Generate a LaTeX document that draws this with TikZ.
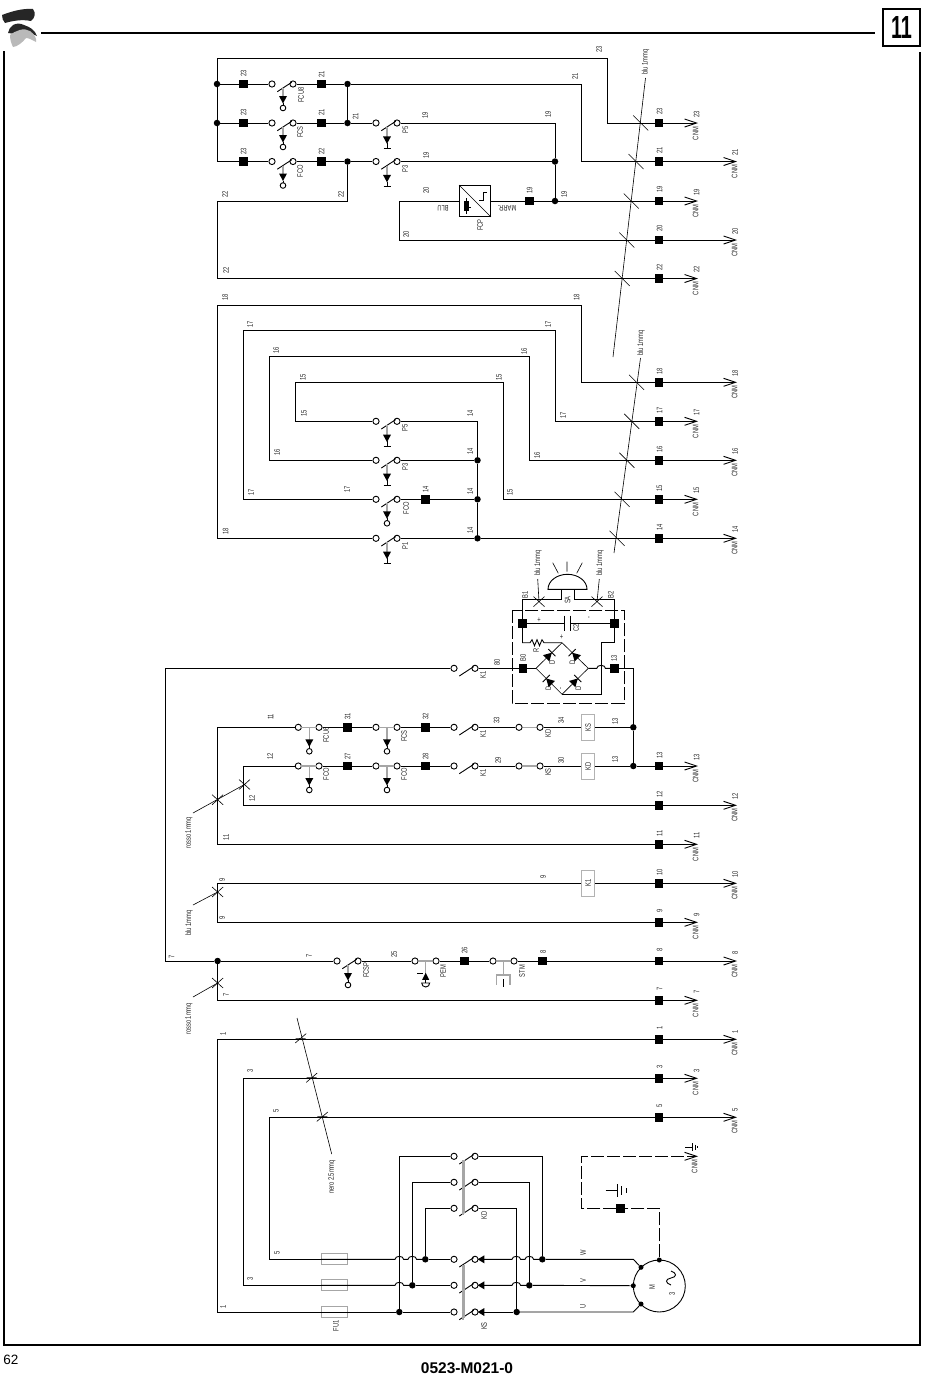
\documentclass[tikz,border=0pt]{standalone}
\usepackage{fontspec}
\setmainfont{Liberation Sans}
\newfontfamily\lblfont[FakeStretch=0.72]{Liberation Sans}
\newfontfamily\boxfont[FakeStretch=0.62]{Liberation Sans}
\usetikzlibrary{arrows.meta}

\begin{document}
\begin{tikzpicture}[
		x=1pt,y=-1pt,
		wire/.style={line width=.9},
		frameline/.style={line width=2},
		plugwire/.style={wire,-{Straight Barb[length=12,width=8]}},
		dashwire/.style={wire,dash pattern=on 13 off 3},
		thinline/.style={line width=.6},
		stemline/.style={line width=1.2,gray!70},
		term/.style={rectangle,fill=black,minimum size=8.5,inner sep=0},
		jdot/.style={circle,fill=black,minimum size=6.5,inner sep=0},
		cont/.style={circle,draw,wire,fill=white,minimum size=6.2,inner sep=0},
		lbl/.style={rotate=90,font={\lblfont\fontsize{8}{9}\selectfont},text=black!85,inner sep=0},
		relay/.style={lbl,draw=gray!60,line width=1,fill=white,minimum width=26,minimum height=13.4},
		fuse/.style={draw=gray!70,line width=1,minimum width=26,minimum height=11,inner sep=0},
		swblade/.pic={\draw[wire] (5.3,7.7) -- (19.7,-1.7);},
		swball/.pic={
			\draw[stemline] (11,4) -- (11,13);
			\fill (7,12) -- (15,12) -- (11,19.5) -- cycle;
			\draw[wire] (11,19) -- (11,21.5);
			\draw[wire,fill=white] (11,24) circle[radius=2.8];
		},
		swbar/.pic={
			\draw[stemline] (11,4) -- (11,14);
			\fill (7,13.4) -- (15,13.4) -- (11,20.8) -- cycle;
			\draw[wire] (11,20) -- (11,25) (7.5,25) -- (14.5,25);
		},
		swclosed/.pic={
			\draw[stemline] (2.8,0) -- (18.2,0) (11,0) -- (11,13);
			\fill (7,12) -- (15,12) -- (11,19.5) -- cycle;
			\draw[wire] (11,19) -- (11,21.5);
			\draw[wire,fill=white] (11,24) circle[radius=2.8];
		},
		tick/.pic={\draw[thinline] (-7.5,-7.5) -- (7.5,7.5);},
		cross/.pic={\draw[thinline] (-5.5,5) -- (5.5,-5) (-5.5,-5) -- (5.5,5);},
		slash/.pic={\draw[thinline] (-5.5,4.7) -- (5.5,-4.7) (-5,0) -- (5,0);},
		diode/.pic={
			\fill (-4,-4.5) -- (-4,4.5) -- (4,0) -- cycle;
			\draw[wire] (4,-5) -- (4,5);
		},
		intri/.pic={\fill (2.7,0) -- (9.3,-4) -- (9.3,4) -- cycle;}
		]
		\useasboundingbox (0,0) rectangle (950,1379);

		% frame and page marks
		\draw[frameline] (41,33) -- (875,33);
		\draw[frameline] (4,51) -- (4,1345) -- (920,1345) -- (920,52);
		\node[draw,frameline,minimum size=37,inner sep=0,font={\boxfont\bfseries\fontsize{32}{32}\selectfont}] (pagebox) at (901.5,27.5) {11};
		\fill[black!85] (2,15) .. controls (10,12) and (22,8) .. (33,9) .. controls (36,13) and (35,18) .. (31,21) .. controls (22,19) and (12,21) .. (5,23) .. controls (3,21) and (2,18) .. (2,15) -- cycle;
		\fill[black!85] (8,33) .. controls (9,26) and (16,21) .. (24,25) .. controls (30,27) and (35,30) .. (37,36) .. controls (30,33) and (22,28) .. (17,32) .. controls (14,34) and (11,34) .. (8,33) -- cycle;
		\fill[gray!55] (10,35) .. controls (15,31) and (24,27) .. (30,31) .. controls (34,34) and (37,38) .. (36,42) .. controls (32,40) and (29,38) .. (26,38) .. controls (23,42) and (17,47) .. (13,47) .. controls (11,43) and (10,39) .. (10,35) -- cycle;
		\node[font=\fontsize{13.5}{14}\selectfont,inner sep=0] (pagenum) at (11,1360) {62};
		\node[font=\bfseries\fontsize{15.5}{16}\selectfont,inner sep=0] (drawnum) at (467,1368) {0523-M021-0};

		% right hand terminals and plugs
		\path (659,123) node[term] (tr23) {} (659,161.5) node[term] (tr21) {} (659,201) node[term] (tr19) {}
		 (659,240) node[term] (tr20) {} (659,278.5) node[term] (tr22) {}
		 (659,382.3) node[term] (tr18) {} (659,421.3) node[term] (tr17) {} (659,460.3) node[term] (tr16) {}
		 (659,499.3) node[term] (tr15) {} (659,538.3) node[term] (tr14) {}
		 (659,766) node[term] (tr13) {} (659,805.3) node[term] (tr12) {} (659,844.3) node[term] (tr11) {}
		 (659,883.3) node[term] (tr10) {} (659,922.3) node[term] (tr9) {} (659,961) node[term] (tr8) {}
		 (659,1000.3) node[term] (tr7) {} (659,1039.3) node[term] (tr1) {} (659,1078.3) node[term] (tr3) {}
		 (659,1117.3) node[term] (tr5) {};
		\coordinate (pl23) at (698,123);
		\coordinate (pl21) at (737,161.5);
		\coordinate (pl19) at (698,201);
		\coordinate (pl20) at (737,240);
		\coordinate (pl22) at (698,278.5);
		\coordinate (pl18) at (737,382.3);
		\coordinate (pl17) at (698,421.3);
		\coordinate (pl16) at (737,460.3);
		\coordinate (pl15) at (698,499.3);
		\coordinate (pl14) at (737,538.3);
		\coordinate (pl13) at (698,766);
		\coordinate (pl12) at (737,805.3);
		\coordinate (pl11) at (698,844.3);
		\coordinate (pl10) at (737,883.3);
		\coordinate (pl9) at (698,922.3);
		\coordinate (pl8) at (737,961);
		\coordinate (pl7) at (698,1000.3);
		\coordinate (pl1) at (737,1039.3);
		\coordinate (pl3) at (698,1078.3);
		\coordinate (pl5) at (737,1117.3);
		\coordinate (plE) at (698,1156.3);
		\draw[plugwire] (tr23) -- (pl23);
		\draw[plugwire] (tr21) -- (pl21);
		\draw[plugwire] (tr19) -- (pl19);
		\draw[plugwire] (tr20) -- (pl20);
		\draw[plugwire] (tr22) -- (pl22);
		\draw[plugwire] (tr18) -- (pl18);
		\draw[plugwire] (tr17) -- (pl17);
		\draw[plugwire] (tr16) -- (pl16);
		\draw[plugwire] (tr15) -- (pl15);
		\draw[plugwire] (tr14) -- (pl14);
		\draw[plugwire] (tr13) -- (pl13);
		\draw[plugwire] (tr12) -- (pl12);
		\draw[plugwire] (tr11) -- (pl11);
		\draw[plugwire] (tr10) -- (pl10);
		\draw[plugwire] (tr9) -- (pl9);
		\draw[plugwire] (tr8) -- (pl8);
		\draw[plugwire] (tr7) -- (pl7);
		\draw[plugwire] (tr1) -- (pl1);
		\draw[plugwire] (tr3) -- (pl3);
		\draw[plugwire] (tr5) -- (pl5);
		\path (659.5,111.5) node[lbl] (nt23) {23} (659.5,150) node[lbl] (nt21) {21} (659.5,189.5) node[lbl] (nt19) {19}
		 (659.5,228.5) node[lbl] (nt20) {20} (659.5,267) node[lbl] (nt22) {22}
		 (659.5,371) node[lbl] (nt18) {18} (659.5,410) node[lbl] (nt17) {17} (659.5,449) node[lbl] (nt16) {16}
		 (659.5,488) node[lbl] (nt15) {15} (659.5,527) node[lbl] (nt14) {14}
		 (659.5,755) node[lbl] (nt13) {13} (659.5,794) node[lbl] (nt12) {12} (659.5,833) node[lbl] (nt11) {11}
		 (659.5,872) node[lbl] (nt10) {10} (659.5,911) node[lbl] (nt9) {9} (659.5,950) node[lbl] (nt8) {8}
		 (659.5,989) node[lbl] (nt7) {7} (659.5,1028) node[lbl] (nt1) {1} (659.5,1067) node[lbl] (nt3) {3}
		 (659.5,1106) node[lbl] (nt5) {5};
		\path (696.5,114) node[lbl] (np23) {23} (735,152.5) node[lbl] (np21) {21} (696.5,192) node[lbl] (np19) {19}
		 (735,231) node[lbl] (np20) {20} (696.5,269.5) node[lbl] (np22) {22}
		 (735,373.5) node[lbl] (np18) {18} (696.5,412.5) node[lbl] (np17) {17} (735,451.5) node[lbl] (np16) {16}
		 (696.5,490.5) node[lbl] (np15) {15} (735,529.5) node[lbl] (np14) {14}
		 (696.5,757) node[lbl] (np13) {13} (735,796.5) node[lbl] (np12) {12} (696.5,835.5) node[lbl] (np11) {11}
		 (735,874.5) node[lbl] (np10) {10} (696.5,915) node[lbl] (np9) {9} (735,953) node[lbl] (np8) {8}
		 (696.5,992) node[lbl] (np7) {7} (735,1032) node[lbl] (np1) {1} (696.5,1071) node[lbl] (np3) {3}
		 (735,1110) node[lbl] (np5) {5};
		\path (695.5,133.5) node[lbl] (nc23) {CNM} (734.5,171.5) node[lbl] (nc21) {CNM} (695.5,211) node[lbl] (nc19) {CNM}
		 (734.5,250) node[lbl] (nc20) {CNM} (695.5,288.5) node[lbl] (nc22) {CNM}
		 (734.5,392) node[lbl] (nc18) {CNM} (695.5,431.5) node[lbl] (nc17) {CNM} (734.5,470) node[lbl] (nc16) {CNM}
		 (695.5,509.5) node[lbl] (nc15) {CNM} (734.5,548) node[lbl] (nc14) {CNM}
		 (695.5,776) node[lbl] (nc13) {CNM} (734.5,815) node[lbl] (nc12) {CNM} (695.5,854.5) node[lbl] (nc11) {CNM}
		 (734.5,893) node[lbl] (nc10) {CNM} (695.5,932.5) node[lbl] (nc9) {CNM} (734.5,971) node[lbl] (nc8) {CNM}
		 (695.5,1010.5) node[lbl] (nc7) {CNM} (734.5,1049) node[lbl] (nc1) {CNM} (695.5,1088.5) node[lbl] (nc3) {CNM}
		 (734.5,1127) node[lbl] (nc5) {CNM} (694.5,1166.5) node[lbl] (ncE) {CNM};

		% top group
		\path (217,84) node[jdot] (dA1) {} (243.5,84) node[term] (tA1) {} (272,84) node[cont] (cA1) {} (293,84) node[cont] (cA2) {}
		 (321.5,84) node[term] (tA2) {} (347.5,84) node[jdot] (dA2) {};
		\path (217,123) node[jdot] (dB1) {} (243.5,123) node[term] (tB1) {} (272,123) node[cont] (cB1) {} (293,123) node[cont] (cB2) {}
		 (321.5,123) node[term] (tB2) {} (347.5,123) node[jdot] (dB2) {} (376,123) node[cont] (cB3) {} (397,123) node[cont] (cB4) {};
		\path (243.5,161.5) node[term] (tC1) {} (272,161.5) node[cont] (cC1) {} (293,161.5) node[cont] (cC2) {}
		 (321.5,161.5) node[term] (tC2) {} (347.5,161.5) node[jdot] (dC2) {} (376,161.5) node[cont] (cC3) {} (397,161.5) node[cont] (cC4) {}
		 (555,161.5) node[jdot] (dC3) {};
		\path (475,201) node[draw,wire,fill=white,minimum size=31,inner sep=0] (fcp) {} (529.5,201) node[term] (tD1) {} (555,201) node[jdot] (dD1) {};
		\coordinate (kTop) at (607,58);
		\coordinate (k21) at (581.5,84);
		\coordinate (k22) at (217,201);
		\coordinate (k20) at (399.5,201);
		\draw[wire] (dA1) -- (tA1) -- (cA1) (cA2) -- (tA2) -- (dA2);
		\draw[wire] (dB1) -- (tB1) -- (cB1) (cB2) -- (tB2) -- (dB2) -- (cB3);
		\draw[wire] (tC1) -- (cC1) (cC2) -- (tC2) -- (dC2) -- (cC3) (cC4) -- (dC3);
		\draw[wire] (dA1) -- (dB1);
		\draw[wire] (dB1) |- (tC1);
		\draw[wire] (dA1) |- (kTop);
		\draw[wire] (kTop) |- (tr23);
		\draw[wire] (dA2) -- (k21);
		\draw[wire] (k21) |- (tr21);
		\draw[wire] (dA2) -- (dB2);
		\draw[wire] (cB4) -| (dC3);
		\draw[wire] (dC3) -- (dD1);
		\draw[wire] (dC2) |- (k22);
		\draw[wire] (k22) |- (tr22);
		\draw[wire] (dD1) -- (tD1) -- (fcp);
		\draw[wire] (fcp) -- (k20);
		\draw[wire] (k20) |- (tr20);
		\draw[wire] (dD1) -- (tr19);
		\draw[thinline] (fcp.north west) -- (fcp.south east);
		\draw[thinline] (479.3,200) -- (483,200) -- (483,192) -- (487,192);
		\fill (463.5,201) rectangle (468.5,211);
		\draw[thinline] (466,198) -- (466,214) (468.5,207) -- (471,207);
		\path (cA1) pic {swblade} (cA1) pic {swball} (cB1) pic {swblade} (cB1) pic {swball} (cC1) pic {swblade} (cC1) pic {swball};
		\path (cB3) pic {swblade} (cB3) pic {swbar} (cC3) pic {swblade} (cC3) pic {swbar};
		\path (243.5,73.5) node[lbl] (n1) {23} (321.5,74) node[lbl] (n2) {21} (243.5,112) node[lbl] (n3) {23}
		 (321.5,112.5) node[lbl] (n4) {21} (243.5,151) node[lbl] (n5) {23} (321.5,151) node[lbl] (n6) {22}
		 (301,95) node[lbl] (n7) {FCU8} (300,132) node[lbl] (n8) {FCS} (300,171) node[lbl] (n9) {FCO}
		 (355.5,116) node[lbl] (n10) {21} (425,115) node[lbl] (n11) {19} (548,114) node[lbl] (n12) {19}
		 (426,155) node[lbl] (n13) {19} (405.5,130) node[lbl] (n14) {P5} (405,169) node[lbl] (n15) {P3}
		 (225,194) node[lbl] (n16) {22} (341,194) node[lbl] (n17) {22} (426,190) node[lbl] (n18) {20}
		 (529.5,190) node[lbl] (n19) {19} (564,194) node[lbl] (n20) {19} (406,234) node[lbl] (n21) {20}
		 (226,270) node[lbl] (n22) {22} (480,225) node[lbl] (n23) {FCP} (443,208) node[lbl,rotate=90] (n24) {BLU}
		 (507,208) node[lbl,rotate=90] (n25) {MARR.} (575,76) node[lbl] (n26) {21} (599,49) node[lbl] (n27) {23}
		 (645.5,62) node[lbl] (n28) {blu 1mmq};
		\coordinate (blA) at (645.5,78);
		\coordinate (blB) at (613,357);
		\draw[thinline] (blA) -- (blB);
		\path (640.7,123) pic {tick} (636,161.5) pic {tick} (631.3,201) pic {tick} (626.8,240) pic {tick} (622.2,278.5) pic {tick};

		% second group
		\path (376,421.3) node[cont] (cM1) {} (397,421.3) node[cont] (cM2) {}
		 (376,460.3) node[cont] (cN1) {} (397,460.3) node[cont] (cN2) {} (477.5,460.3) node[jdot] (dN) {}
		 (376,499.3) node[cont] (cO1) {} (397,499.3) node[cont] (cO2) {} (425.5,499.3) node[term] (tO) {} (477.5,499.3) node[jdot] (dO) {}
		 (376,538.3) node[cont] (cP1) {} (397,538.3) node[cont] (cP2) {} (477.5,538.3) node[jdot] (dP) {};
		\coordinate (k18a) at (217,305.5);
		\coordinate (k18b) at (581.5,305.5);
		\coordinate (k17a) at (243.5,330.5);
		\coordinate (k17b) at (555.3,330.5);
		\coordinate (k16a) at (269.5,356.3);
		\coordinate (k16b) at (529.6,356.3);
		\coordinate (k15a) at (295.5,382.3);
		\coordinate (k15b) at (503.5,382.3);
		\draw[wire] (cP1) -| (k18a) -- (k18b) |- (tr18);
		\draw[wire] (cO1) -| (k17a) -- (k17b) |- (tr17);
		\draw[wire] (cN1) -| (k16a) -- (k16b) |- (tr16);
		\draw[wire] (cM1) -| (k15a) -- (k15b) |- (tr15);
		\draw[wire] (cM2) -| (dN);
		\draw[wire] (cN2) -- (dN);
		\draw[wire] (cO2) -- (tO) -- (dO);
		\draw[wire] (cP2) -- (dP) -- (tr14);
		\draw[wire] (dN) -- (dO) -- (dP);
		\path (cM1) pic {swblade} (cM1) pic {swbar} (cN1) pic {swblade} (cN1) pic {swbar}
		 (cO1) pic {swblade} (cO1) pic {swball} (cP1) pic {swblade} (cP1) pic {swbar};
		\path (225,297) node[lbl] (m1) {18} (576.5,297) node[lbl] (m2) {18} (250,324) node[lbl] (m3) {17}
		 (548,324) node[lbl] (m4) {17} (276,350) node[lbl] (m5) {16} (524,351) node[lbl] (m6) {16}
		 (303,377) node[lbl] (m7) {15} (499,377) node[lbl] (m8) {15} (304,413) node[lbl] (m9) {15}
		 (470,413) node[lbl] (m10) {14} (277,452) node[lbl] (m11) {16} (470,451) node[lbl] (m12) {14}
		 (251,492) node[lbl] (m13) {17} (347,489) node[lbl] (m14) {17} (425.5,489) node[lbl] (m15) {14}
		 (470,491) node[lbl] (m16) {14} (225.5,531) node[lbl] (m17) {18} (470,530) node[lbl] (m18) {14}
		 (563,415) node[lbl] (m19) {17} (537,455) node[lbl] (m20) {16} (510,492.5) node[lbl] (m21) {15}
		 (405,428) node[lbl] (m22) {P5} (405,467) node[lbl] (m23) {P3} (406,508) node[lbl] (m24) {FCO}
		 (405,546) node[lbl] (m25) {P1} (641,343) node[lbl] (m26) {blu 1mmq};
		\coordinate (blC) at (640.5,358);
		\coordinate (blD) at (614,553);
		\draw[thinline] (blC) -- (blD);
		\path (636.6,382.3) pic {tick} (631.7,421.3) pic {tick} (626.9,460.3) pic {tick} (622.1,499.3) pic {tick} (617.1,538.3) pic {tick};

		% lamp and rectifier
		\path (522.5,623.3) node[term] (tCa) {} (614.3,623.3) node[term] (tCb) {} (523,668.3) node[term] (tB0) {} (614.3,668.3) node[term] (tB3) {}
		 (454,668.3) node[cont] (cK1) {} (475,668.3) node[cont] (cK2) {};
		\coordinate (brT) at (562,642.7);
		\coordinate (brL) at (536,668.3);
		\coordinate (brR) at (588.3,668.3);
		\coordinate (brB) at (562,694.3);
		\coordinate (saL) at (561.6,599.6);
		\coordinate (saLt) at (561.6,589.3);
		\coordinate (saR) at (574.5,599.6);
		\coordinate (saRt) at (574.5,589.3);
		\coordinate (capL) at (564.7,623.3);
		\coordinate (capR) at (570,623.3);
		\coordinate (resA) at (530,642.7);
		\coordinate (resB) at (545,642.7);
		\coordinate (hopA) at (596.8,668.3);
		\coordinate (k13a) at (601.3,642.7);
		\coordinate (k7a) at (165.7,668.3);
		\draw[dashwire] (512.3,610.3) rectangle (624.3,703.3);
		\draw[wire] (tCa) |- (saL) -- (saLt);
		\draw[wire] (tCb) |- (saR) -- (saRt);
		\draw[wire] (548,589.3) arc[start angle=180,end angle=360,x radius=19.5,y radius=15] -- cycle;
		\draw[thinline] (552.7,562.7) -- (558.3,573.3) (567,561.7) -- (567,571.7) (582.3,562.7) -- (576.7,573.3);
		\draw[wire] (tCa) -- (capL);
		\draw[wire] (capR) -- (tCb);
		\draw[wire] (564.7,615.5) -- (564.7,630.5) (570,615.5) -- (570,630.5);
		\draw[wire] (tCa) |- (resA) -- ++(2,-3) -- ++(2.5,6) -- ++(2.5,-6) -- ++(2.5,6) -- ++(2.5,-6) -- ++(2,3) -- (resB) -- (brT);
		\draw[thinline] (brL) -- (brT) -- (brR) -- (brB) -- cycle;
		\path (549,655.5) pic[rotate=45] {diode} (575,655.5) pic[rotate=135] {diode} (549,681.3) pic[rotate=135] {diode} (575,681.3) pic[rotate=45] {diode};
		\draw[wire] (tB0) -- (brL);
		\draw[wire] (brR) -- (hopA) arc[start angle=180,end angle=360,x radius=4.3,y radius=3] -- (tB3);
		\draw[wire] (tCb) |- (k13a);
		\draw[wire] (k13a) |- (brB);
		\draw[wire] (cK2) -- (tB0);
		\path (cK1) pic {swblade};
		\path (539,601.6) pic {cross} (597,601.6) pic {cross};
		\coordinate (blE) at (537.7,579);
		\coordinate (blF) at (539,601.6);
		\coordinate (blG) at (599.3,579);
		\coordinate (blH) at (597,601.6);
		\draw[thinline] (blE) -- (blF);
		\draw[thinline] (blG) -- (blH);
		\path (538,563) node[lbl] (s1) {blu 1mmq} (600,563) node[lbl] (s2) {blu 1mmq} (525,595) node[lbl] (s3) {B1}
		 (610.7,595) node[lbl] (s4) {B2} (567.5,600) node[lbl] (s5) {SA} (576,628) node[lbl] (s6) {C2}
		 (539,620) node[lbl,rotate=-90] (s7) {+} (590,618) node[lbl] (s8) {-} (561.6,637.5) node[lbl,rotate=-90] (s9) {+}
		 (561.6,689) node[lbl] (s10) {-} (536,650) node[lbl] (s11) {R} (552,662.3) node[lbl] (s12) {D}
		 (572.3,662) node[lbl] (s13) {D} (548.3,688) node[lbl] (s14) {D} (578.3,688) node[lbl] (s15) {D}
		 (497,662) node[lbl] (s16) {80} (483,675) node[lbl] (s17) {K1} (523,658) node[lbl] (s18) {B0} (614,658) node[lbl] (s19) {13};

		% relay rows
		\path (298.3,727.3) node[cont] (cU1) {} (319,727.3) node[cont] (cU2) {} (347.7,727.3) node[term] (tU1) {} (376,727.3) node[cont] (cU3) {} (397,727.3) node[cont] (cU4) {}
		 (425.7,727.3) node[term] (tU2) {} (454,727.3) node[cont] (cU5) {} (475,727.3) node[cont] (cU6) {} (519,727.3) node[cont] (cU7) {} (540,727.3) node[cont] (cU8) {}
		 (588,727.3) node[relay] (boxKS) {KS} (633.3,727.3) node[jdot] (dU) {};
		\path (298.3,766) node[cont] (cV1) {} (319,766) node[cont] (cV2) {} (347.7,766) node[term] (tV1) {} (376,766) node[cont] (cV3) {} (397,766) node[cont] (cV4) {}
		 (425.7,766) node[term] (tV2) {} (454,766) node[cont] (cV5) {} (475,766) node[cont] (cV6) {} (519,766) node[cont] (cV7) {} (540,766) node[cont] (cV8) {}
		 (588,766) node[relay] (boxKD) {KD} (633.3,766) node[jdot] (dV) {};
		\coordinate (k11a) at (217.6,727.3);
		\coordinate (k12a) at (243.5,766);
		\draw[wire] (tB3) -| (dU);
		\draw[wire] (dU) -- (dV) -- (tr13);
		\draw[wire] (cU1) -- (k11a) |- (tr11);
		\draw[wire] (cV1) -- (k12a) |- (tr12);
		\draw[wire] (cU2) -- (tU1) -- (cU3) (cU4) -- (tU2) -- (cU5) (cU6) -- (cU7) (cU8) -- (boxKS) -- (dU);
		\draw[wire] (cV2) -- (tV1) -- (cV3) (cV4) -- (tV2) -- (cV5) (cV6) -- (cV7) (cV8) -- (boxKD) -- (dV);
		\draw[stemline] (cU7) -- (cU8);
		\draw[stemline] (cV7) -- (cV8);
		\path (cU1) pic {swclosed} (cU3) pic {swclosed} (cV1) pic {swclosed} (cV3) pic {swclosed} (cU5) pic {swblade} (cV5) pic {swblade};
		\path (270.5,717) node[lbl] (u1) {11} (347.7,716) node[lbl] (u2) {31} (425.7,716) node[lbl] (u3) {32}
		 (496.5,720) node[lbl] (u4) {33} (561,720) node[lbl] (u5) {34} (615,721) node[lbl] (u6) {13}
		 (326,735) node[lbl] (u7) {FCU6} (404,736) node[lbl] (u8) {FCS} (483,734) node[lbl] (u9) {K1}
		 (548,733) node[lbl] (u10) {KD} (270,756) node[lbl] (u11) {12} (347.7,756) node[lbl] (u12) {27}
		 (425.7,756) node[lbl] (u13) {28} (498,760) node[lbl] (u14) {29} (561,760) node[lbl] (u15) {30}
		 (615,759) node[lbl] (u16) {13} (326,774) node[lbl] (u17) {FCO} (404,774) node[lbl] (u18) {FCO}
		 (483,773) node[lbl] (u19) {K1} (548,772) node[lbl] (u20) {KS} (252,798) node[lbl] (u21) {12}
		 (226,837) node[lbl] (u22) {11} (189,833) node[lbl] (u23) {rosso 1mmq};
		\coordinate (roA) at (193,813);
		\coordinate (roB) at (244.5,784.5);
		\draw[thinline] (roA) -- (roB);
		\path (217.6,799.7) pic {cross} (244.5,784.5) pic {cross};

		% rows 9 to 7
		\path (588,883.3) node[relay] (boxK1) {K1} (217.6,961) node[jdot] (dR7) {}
		 (337,961) node[cont] (cR1) {} (358,961) node[cont] (cR2) {} (415,961) node[cont] (cR3) {} (436,961) node[cont] (cR4) {}
		 (464.7,961) node[term] (tR1) {} (493,961) node[cont] (cR5) {} (514,961) node[cont] (cR6) {} (542.7,961) node[term] (tR2) {};
		\coordinate (k9a) at (217.6,883.3);
		\draw[wire] (tr9) -| (k9a) -- (boxK1) -- (tr10);
		\draw[wire] (dR7) -| (k7a) -- (cK1);
		\draw[wire] (dR7) -- (cR1) (cR2) -- (cR3) (cR4) -- (tR1) -- (cR5) (cR6) -- (tR2) -- (tr8);
		\draw[wire] (dR7) |- (tr7);
		\path (cR1) pic {swblade} (cR1) pic {swball};
		\draw[stemline] (cR3) -- (cR4) (425.7,961) -- (425.7,975);
		\fill (422.2,979.8) -- (429.2,979.8) -- (425.7,972.8) -- cycle;
		\draw[thinline] (417.3,973.3) -- (423.3,973.3);
		\draw[wire] (425.7,979.8) -- (425.7,983);
		\draw[wire] (421.7,983) arc[start angle=180,end angle=0,radius=4] -- cycle;
		\draw[stemline] (cR5) -- (cR6) (503.5,961) -- (503.5,975) (496.6,984.5) -- (496.6,975) -- (510,975) -- (510,984.5);
		\draw[wire] (503.5,979) -- (503.5,987);
		\path (217.6,892) pic {cross} (217.6,983) pic {cross};
		\coordinate (blI) at (193,905);
		\coordinate (blJ) at (217.6,892);
		\coordinate (roC) at (193,997);
		\coordinate (roD) at (217.6,983);
		\draw[thinline] (blI) -- (blJ);
		\draw[thinline] (roC) -- (roD);
		\path (222,880) node[lbl] (r1) {9} (222,918) node[lbl] (r2) {9} (543,877) node[lbl] (r3) {9}
		 (189,923) node[lbl] (r4) {blu 1mmq} (171.5,957) node[lbl] (r5) {7} (309,956) node[lbl] (r6) {7}
		 (394,954) node[lbl] (r7) {25} (464.7,950) node[lbl] (r8) {26} (543,952) node[lbl] (r9) {8}
		 (366,970) node[lbl] (r10) {FCSP} (443,971) node[lbl] (r11) {PEM} (522,971) node[lbl] (r12) {STM}
		 (226,995) node[lbl] (r13) {7} (189,1019) node[lbl] (r14) {rosso 1mmq};

		% power part
		\path (334.7,1259.3) node[fuse] (fu5) {} (334.7,1285.3) node[fuse] (fu3) {} (334.7,1312) node[fuse] (fu1) {}
		 (425.3,1259.3) node[jdot] (dL5) {} (412.3,1285.3) node[jdot] (dL3) {} (399.3,1312) node[jdot] (dL1) {}
		 (454,1156.3) node[cont] (cKa1) {} (475,1156.3) node[cont] (cKa2) {} (454,1182.3) node[cont] (cKb1) {} (475,1182.3) node[cont] (cKb2) {}
		 (454,1208.3) node[cont] (cKc1) {} (475,1208.3) node[cont] (cKc2) {}
		 (454,1259.3) node[cont] (cSa1) {} (475,1259.3) node[cont] (cSa2) {} (454,1285.3) node[cont] (cSb1) {} (475,1285.3) node[cont] (cSb2) {}
		 (454,1312) node[cont] (cSc1) {} (475,1312) node[cont] (cSc2) {}
		 (542.3,1259.3) node[jdot] (dRw) {} (529.3,1285.3) node[jdot] (dRv) {} (516.7,1312) node[jdot] (dRu) {}
		 (659.3,1286) node[circle,draw,wire,minimum size=52,inner sep=0] (motor) {}
		 (641,1267.3) node[jdot,minimum size=5] (dMw) {} (633.3,1285.7) node[jdot,minimum size=5] (dMv) {} (641,1304) node[jdot,minimum size=5] (dMu) {}
		 (659.3,1260) node[jdot,minimum size=5] (dMe) {} (620.7,1208.3) node[term] (tE) {};
		\coordinate (k1a) at (217.6,1039.3);
		\coordinate (k3a) at (243.5,1078.3);
		\coordinate (k5a) at (269.3,1117.3);
		\coordinate (kKa) at (399.3,1156.3);
		\coordinate (kKb) at (412.3,1182.3);
		\coordinate (kKc) at (425.3,1208.3);
		\coordinate (kOa) at (542.3,1156.3);
		\coordinate (kOb) at (529.3,1182.3);
		\coordinate (kOc) at (516.7,1208.3);
		\coordinate (kW) at (633.3,1259.3);
		\coordinate (kU) at (633.3,1312);
		\coordinate (kE1) at (659.3,1208.3);
		\coordinate (kE2) at (581.7,1208.3);
		\coordinate (kE3) at (581.7,1156.3);
		\coordinate (hL5a) at (395,1259.3);
		\coordinate (hL5b) at (408,1259.3);
		\coordinate (hL3a) at (395,1285.3);
		\coordinate (hR5a) at (512,1259.3);
		\coordinate (hR5b) at (525,1259.3);
		\coordinate (hR3a) at (512,1285.3);
		\draw[wire] (fu5) -| (k5a) -- (tr5);
		\draw[wire] (fu3) -| (k3a) -- (tr3);
		\draw[wire] (fu1) -| (k1a) -- (tr1);
		\draw[wire] (fu5.west) -- (fu5.east) -- (hL5a) arc[start angle=180,end angle=360,x radius=4.3,y radius=3] -- (hL5b) arc[start angle=180,end angle=360,x radius=4.3,y radius=3] -- (dL5);
		\draw[wire] (dL5) -- (cSa1);
		\draw[wire] (fu3.west) -- (fu3.east) -- (hL3a) arc[start angle=180,end angle=360,x radius=4.3,y radius=3] -- (dL3);
		\draw[wire] (dL3) -- (cSb1);
		\draw[wire] (fu1.west) -- (fu1.east) -- (dL1) -- (cSc1);
		\draw[wire] (dL1) |- (kKa) -- (cKa1);
		\draw[wire] (dL3) |- (kKb) -- (cKb1);
		\draw[wire] (dL5) |- (kKc) -- (cKc1);
		\draw[wire] (cKa2) -- (kOa) -- (dRw);
		\draw[wire] (cKb2) -- (kOb) -- (dRv);
		\draw[wire] (cKc2) -- (kOc) -- (dRu);
		\draw[wire] (cSa2) -- (hR5a) arc[start angle=180,end angle=360,x radius=4.3,y radius=3] -- (hR5b) arc[start angle=180,end angle=360,x radius=4.3,y radius=3] -- (dRw);
		\draw[wire] (cSb2) -- (hR3a) arc[start angle=180,end angle=360,x radius=4.3,y radius=3] -- (dRv);
		\draw[wire] (cSc2) -- (dRu);
		\draw[wire] (dRw) -- (kW) -- (dMw);
		\draw[wire] (dRv) -- (dMv);
		\draw[wire] (dRu) -- (kU) -- (dMu);
		\draw[dashwire,-{Straight Barb[length=12,width=8]}] (dMe) -- (kE1) -- (tE) -- (kE2) -- (kE3) -- (plE);
		\path (cKa1) pic {swblade} (cKb1) pic {swblade} (cKc1) pic {swblade} (cSa1) pic {swblade} (cSb1) pic {swblade} (cSc1) pic {swblade};
		\path (cSa1) ++(21,0) pic {intri} (cSb1) ++(21,0) pic {intri} (cSc1) ++(21,0) pic {intri};
		\draw[stemline] (463,1160) -- (463,1215) (464.6,1160) -- (464.6,1213);
		\draw[stemline] (463,1265) -- (463,1320) (464.6,1265) -- (464.6,1318);
		\draw[thinline] (605.7,1190.7) -- (617.3,1190.7);
		\draw[wire] (617.3,1184) -- (617.3,1197) (621.5,1186) -- (621.5,1195) (626,1188) -- (626,1193);
		\draw[thinline] (685,1147) -- (692,1147) (692,1143) -- (692,1151) (695,1144.5) -- (695,1149.5) (697.5,1146) -- (697.5,1148);
		\draw[wire] (671,1271) .. controls (677,1273) and (677,1277) .. (671,1278) .. controls (665,1279) and (665,1283) .. (671,1285);
		\coordinate (neA) at (297,1018);
		\coordinate (neB) at (331.7,1154);
		\draw[thinline] (neA) -- (neB);
		\path (300.7,1038.3) pic {slash} (311.7,1077.7) pic {slash} (322.3,1116.7) pic {slash};
		\path (223,1034) node[lbl] (w1) {1} (250,1071) node[lbl] (w2) {3} (276,1111) node[lbl] (w3) {5}
		 (277,1253) node[lbl] (w4) {5} (250,1279) node[lbl] (w5) {3} (223,1307) node[lbl] (w6) {1}
		 (484,1215) node[lbl] (w7) {KD} (484,1326) node[lbl] (w8) {KS} (336,1326) node[lbl] (w9) {FU1}
		 (583,1253) node[lbl] (w10) {W} (583,1281) node[lbl] (w11) {V} (583,1306) node[lbl] (w12) {U}
		 (652,1287) node[lbl] (w13) {M} (672,1294) node[lbl] (w14) {3} (332,1177) node[lbl] (w15) {nero 2.5mmq};
	\end{tikzpicture}
\end{document}
